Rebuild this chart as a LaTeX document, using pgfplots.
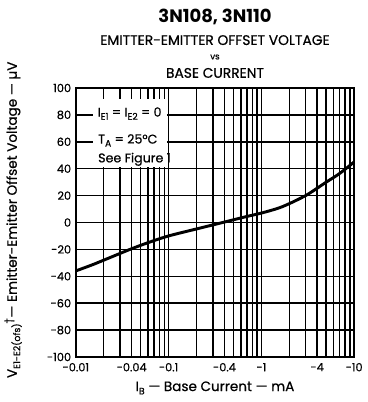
\documentclass[border=0pt]{standalone}
\usepackage{pgfplots}
\pgfplotsset{compat=1.18}
\usepackage{fontspec}
\setmainfont{Poppins}[UprightFeatures={FakeBold=0.6}]
\newcommand\sub[1]{\raisebox{-0.45ex}{\fontsize{7}{8}\selectfont #1}}

\begin{document}
\begin{tikzpicture}
\begin{axis}[
    scale only axis, width=209pt, height=202pt,
    xmode=log, xmin=0.01, xmax=10, ymin=-100, ymax=100,
    xtick={0.01,0.04,0.1,0.4,1,4,10},
    xticklabels={-0.01,-0.04,-0.1,-0.4,-1,-4,-10},
    minor xtick={0.02,0.03,0.05,0.06,0.07,0.08,0.09,0.2,0.3,0.5,0.6,0.7,0.8,0.9,2,3,5,6,7,8,9},
    ytick={-100,-80,...,100},
    /pgf/number format/assume math mode=true,
    grid=both,
    major grid style={black, line width=1.1pt},
    minor grid style={black, line width=1.1pt},
    axis line style={line width=1.2pt},
    major tick length=0pt, minor tick length=0pt,
    tick label style={font=\fontsize{8.5}{10}\selectfont},
    xticklabel style={yshift=-1pt},
    xlabel={I\sub{B} — Base Current — mA},
    ylabel={V\sub{E1-E2(ofs)}\textsuperscript{†}— Emitter-Emitter Offset Voltage — µV},
    label style={font=\fontsize{10.2}{12}\selectfont},
    xlabel style={at={(axis description cs:0.5,-0.115)}, anchor=center},
    ylabel style={at={(axis description cs:-0.225,0.51)}, anchor=center},
    clip=false,
  ]
  % invisible frame matching the reference canvas
  \path (axis description cs:-0.2724,-0.1673) rectangle (axis description cs:1.0394,1.3271);

  \addplot[black, line width=2.2pt, smooth] coordinates {
    (0.01,-36) (0.015,-31.5) (0.02,-28) (0.03,-23) (0.04,-19.5) (0.06,-15)
    (0.1,-10) (0.2,-4.8) (0.3,-1.8) (0.5,2) (0.7,4.5) (1,7) (1.5,10.5)
    (2,14) (3,20) (4,25.5) (5,30) (7,36.5) (10,45)
  };

  % condition box
  \fill[white] (axis cs:0.0152,91.8) rectangle (axis cs:0.097,41);
  \node[anchor=west, font=\fontsize{9.5}{11}\selectfont] at (axis cs:0.0153,81)
    {I\sub{E1} = I\sub{E2} = 0};
  \node[anchor=west, font=\fontsize{9.5}{11}\selectfont] at (axis cs:0.0155,61)
    {T\sub{A} = 25°C};
  \node[anchor=west, font=\fontsize{9.5}{11}\selectfont] at (axis cs:0.0155,47)
    {See Figure 1};

  % titles
  \node[font=\bfseries\fontsize{13.5}{15}\selectfont] at (axis description cs:0.5,1.264) {3N108, 3N110};
  \node[font=\fontsize{10.4}{12}\selectfont] at (axis description cs:0.5,1.178) {EMITTER-EMITTER OFFSET VOLTAGE};
  \node[font=\fontsize{6.5}{7}\selectfont] at (axis description cs:0.5,1.115) {vs};
  \node[font=\fontsize{10.4}{12}\selectfont] at (axis description cs:0.5,1.056) {BASE CURRENT};
\end{axis}
\end{tikzpicture}
\end{document}
